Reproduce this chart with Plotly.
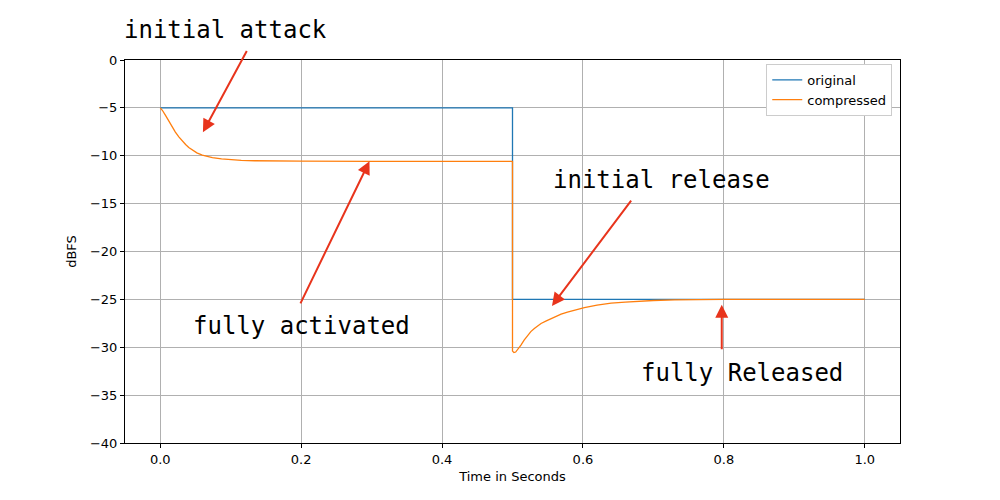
import plotly.graph_objects as go

# original signal level (step)
orig_t = [0.0, 0.5, 0.5, 1.0]
orig_db = [-5, -5, -25, -25]

# compressed signal: attack part, then release part
comp_t = [0.0, 0.003, 0.0075, 0.012, 0.017, 0.0215, 0.0264, 0.031, 0.036, 0.0405,
          0.0455, 0.052, 0.0597, 0.067, 0.074, 0.087, 0.1, 0.115, 0.134, 0.16,
          0.2, 0.3, 0.4, 0.5,
          0.5, 0.502, 0.5045, 0.508, 0.512, 0.5165, 0.5216, 0.526, 0.531, 0.5355,
          0.5405, 0.548, 0.555, 0.562, 0.569, 0.578, 0.588, 0.602, 0.62, 0.64,
          0.66, 0.68, 0.70, 0.73, 0.76, 0.8, 0.9, 1.0]
comp_db = [-5.0, -5.25, -5.79, -6.4, -7.0, -7.53, -8.03, -8.45, -8.83, -9.13,
           -9.41, -9.7, -9.93, -10.08, -10.2, -10.33, -10.42, -10.48, -10.52, -10.55,
           -10.57, -10.58, -10.58, -10.58,
           -30.4, -30.55, -30.5, -30.2, -29.77, -29.25, -28.73, -28.37, -28.04, -27.77,
           -27.52, -27.25, -27.0, -26.76, -26.54, -26.32, -26.13, -25.85, -25.6, -25.4,
           -25.28, -25.18, -25.12, -25.06, -25.03, -25.01, -25.0, -25.0]

labels = ['initial attack', 'fully activated', 'initial release', 'fully Released']
label_t = [0.093, 0.201, 0.711, 0.826]
label_db = [3.18, -27.76, -12.55, -32.66]

# arrow tip and tail per label
tip_t = [0.0606, 0.297, 0.556, 0.797]
tip_db = [-7.55, -10.57, -25.68, -25.57]
tail_t = [0.124, 0.198, 0.670, 0.797]
tail_db = [1.09, -25.57, -14.53, -30.36]

fig = go.Figure()
fig.add_trace(go.Scatter(x=orig_t, y=orig_db, mode='lines', name='original',
                         line={'color': '#1f77b4', 'width': 1.3}))
fig.add_trace(go.Scatter(x=comp_t, y=comp_db, mode='lines', name='compressed',
                         line={'color': '#ff7f0e', 'width': 1.3}))

label_font = {'family': 'DejaVu Sans Mono', 'size': 24, 'color': 'black'}
for txt, x, y in zip(labels, label_t, label_db):
    if y > 0:
        # above the axes: place in paper units so it is not hidden
        fig.add_annotation(x=x, y=1 + y / 40, xref='x', yref='paper', text=txt,
                           xanchor='center', yanchor='middle',
                           showarrow=False, font=label_font)
    else:
        fig.add_annotation(x=x, y=y, xref='x', yref='y', text=txt,
                           xanchor='center', yanchor='middle',
                           showarrow=False, font=label_font)

for x, y, ax, ay in zip(tip_t, tip_db, tail_t, tail_db):
    fig.add_annotation(x=x, y=y, ax=ax, ay=ay, xref='x', yref='y', axref='x', ayref='y',
                       text='', showarrow=True, arrowhead=2, arrowsize=1.3,
                       arrowwidth=2, arrowcolor='#e8341c')

axis_common = dict(showline=True, linecolor='black', linewidth=1, mirror=True,
                   ticks='outside', ticklen=4, tickcolor='black',
                   showgrid=True, gridcolor='#b0b0b0', gridwidth=1, zeroline=False,
                   tickfont={'family': 'DejaVu Sans', 'size': 13, 'color': 'black'})

fig.update_xaxes(range=[-0.05, 1.05], tickvals=[0, 0.2, 0.4, 0.6, 0.8, 1.0],
                 tickformat='.1f',
                 title={'text': 'Time in Seconds', 'standoff': 6,
                        'font': {'family': 'DejaVu Sans', 'size': 13, 'color': 'black'}},
                 **axis_common)
fig.update_yaxes(range=[-40, 0], dtick=5,
                 title={'text': 'dBFS', 'standoff': 10,
                        'font': {'family': 'DejaVu Sans', 'size': 13, 'color': 'black'}},
                 **axis_common)

fig.update_layout(
    width=1000, height=500,
    margin={'l': 117, 'r': 108, 't': 52, 'b': 65},
    plot_bgcolor='white', paper_bgcolor='white',
    legend={'x': 0.99, 'y': 0.99, 'xanchor': 'right', 'yanchor': 'top',
            'bordercolor': '#cccccc', 'borderwidth': 1, 'bgcolor': 'white',
            'font': {'family': 'DejaVu Sans', 'size': 13, 'color': 'black'}},
)

fig.write_html("out.html")
